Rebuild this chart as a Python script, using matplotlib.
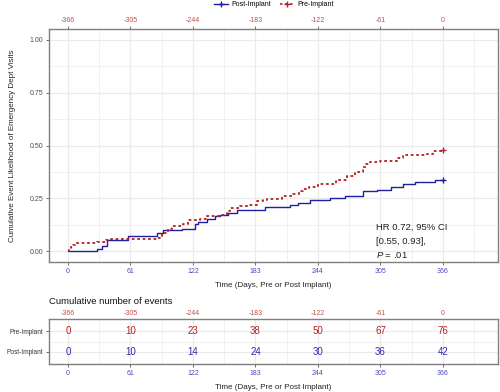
import numpy as np
import matplotlib
matplotlib.use("Agg")
import matplotlib.pyplot as plt
from matplotlib.lines import Line2D
from matplotlib.ticker import FixedLocator

plt.rcParams['font.family'] = ['Liberation Sans', 'DejaVu Sans']
plt.rcParams['mathtext.fontset'] = 'custom'
plt.rcParams['mathtext.it'] = 'Liberation Sans:italic'
plt.rcParams['mathtext.rm'] = 'Liberation Sans'

# data
post_days = [0, 28.6, 33.1, 38.3, 58.6, 87.1, 93, 111, 124, 127, 135.4, 143.5, 148.4, 156.4,
             164.7, 192, 216.7, 224.8, 236, 255.7, 270, 288, 302, 315.7, 327, 339, 358, 366]
post_cum = [0, 0.012, 0.025, 0.056, 0.075, 0.088, 0.102, 0.108, 0.131, 0.138, 0.153, 0.166, 0.174, 0.182,
            0.194, 0.21, 0.219, 0.23, 0.244, 0.253, 0.261, 0.283, 0.291, 0.304, 0.318, 0.33, 0.337, 0.337]

pre_days = [0, 1.3, 3, 5, 7.5, 28.6, 36.8, 41.6, 86.8, 89.8, 92, 97.3, 101.5, 112.5, 117.4, 128.8,
            136, 148.4, 154.9, 158.1, 167.9, 176, 184.2, 190, 194, 208.6, 220, 225.5, 229.8, 235,
            244, 262, 272, 280.6, 287.8, 291, 294.6, 304.5, 320.7, 327, 350, 356, 366]
pre_cum = [0, 0.01, 0.02, 0.03, 0.038, 0.045, 0.053, 0.06, 0.064, 0.075, 0.088, 0.106, 0.119, 0.128, 0.15, 0.154,
           0.166, 0.174, 0.189, 0.205, 0.213, 0.221, 0.236, 0.241, 0.247, 0.264, 0.272, 0.283, 0.294, 0.303,
           0.319, 0.338, 0.357, 0.377, 0.40, 0.412, 0.421, 0.427, 0.44, 0.454, 0.46, 0.476, 0.479]

tick_days = [0, 61, 122, 183, 244, 305, 366]
top_labels = ['-366', '-305', '-244', '-183', '-122', '-61', '0']
y_ticks = [0.0, 0.25, 0.5, 0.75, 1.0]
y_labels = ['0.00', '0.25', '0.50', '0.75', '1.00']

table_groups = ['Post-Implant', 'Pre-Implant']
pre_events = [0, 10, 23, 38, 50, 67, 76]
post_events = [0, 10, 14, 24, 30, 36, 42]

blue = '#1f1fa0'
red = '#b22222'
lab_red = '#c0504d'
lab_blue = '#4a4ac8'
grid_c = '#ebebeb'
border_c = '#7f7f7f'
minor_x = [30.5, 91.5, 152.5, 213.5, 274.5, 335.5, 396.5]
xlim = (-18.5, 419.7)
tick_fs = 5.0

fig = plt.figure(figsize=(5, 3.92), dpi=100)
ax = fig.add_axes([0.098, 0.3316, 0.898, 0.5944])
tab = fig.add_axes([0.098, 0.0714, 0.898, 0.1148])


def style_panel(a):
    for s in a.spines.values():
        s.set_color(border_c)
        s.set_linewidth(1.0)
    a.set_axisbelow(True)
    a.tick_params(which='both', length=2.5, width=0.6, color='#555555', labelsize=tick_fs, pad=1.5)
    a.tick_params(which='minor', length=0)


style_panel(ax)
ax.set_xlim(*xlim)
ax.set_ylim(-0.05, 1.05)
ax.set_xticks(tick_days)
ax.set_xticklabels([str(d) for d in tick_days], color=lab_blue)
ax.xaxis.set_minor_locator(FixedLocator(minor_x))
ax.set_yticks(y_ticks)
ax.set_yticklabels(y_labels, color='#4d4d4d')
ax.yaxis.set_minor_locator(FixedLocator([0.125, 0.375, 0.625, 0.875]))
ax.grid(True, which='major', color=grid_c, linewidth=0.9)
ax.grid(True, which='minor', color=grid_c, linewidth=0.5)

top = ax.secondary_xaxis('top')
top.set_xticks(tick_days)
top.set_xticklabels(top_labels, color=lab_red)
top.tick_params(length=2.5, width=0.6, color='#555555', labelsize=tick_fs, pad=1.0)
top.spines['top'].set_visible(False)

ax.step(post_days, post_cum, where='post', color=blue, lw=1.0)
ax.step(pre_days, pre_cum, where='post', color=red, lw=1.3, linestyle=(0, (1.5, 1.5)))
ax.plot([366], [post_cum[-1]], marker='+', color=blue, ms=5, mew=1.0)
ax.plot([366], [pre_cum[-1]], marker='+', color=red, ms=5, mew=1.0)

ax.set_xlabel('Time (Days, Pre or Post Implant)', fontsize=5.8, color='#222222', labelpad=5)
ax.set_ylabel('Cumulative Event Likelihood of Emergency Dept Visits', fontsize=5.8, color='#222222', labelpad=10)

ax.text(300.6, 0.113, 'HR 0.72, 95% CI', fontsize=6.8, color='#222222', va='center')
ax.text(300.6, 0.047, '[0.55, 0.93],', fontsize=6.8, color='#222222', va='center')
ax.text(300.6, -0.016, '$P$ = .01', fontsize=6.8, color='#222222', va='center')

handles = [Line2D([], [], color=blue, lw=1.0, marker='+', ms=5),
           Line2D([], [], color=red, lw=1.2, linestyle=(0, (1.5, 1.5)), marker='+', ms=5)]
fig.legend(handles, table_groups, loc='center', bbox_to_anchor=(0.548, 0.988), ncol=2,
           frameon=False, fontsize=5.0, handlelength=2.0, handletextpad=0.5, columnspacing=1.2)

# risk table
style_panel(tab)
tab.set_xlim(*xlim)
tab.set_ylim(0.4, 2.6)
tab.set_xticks(tick_days)
tab.set_xticklabels([str(d) for d in tick_days], color=lab_blue)
tab.xaxis.set_minor_locator(FixedLocator(minor_x))
tab.set_yticks([1, 2])
tab.set_yticklabels(table_groups, color='#333333', fontsize=4.7)
tab.yaxis.set_minor_locator(FixedLocator([1.5]))
tab.grid(True, which='major', color=grid_c, linewidth=0.9)
tab.grid(True, which='minor', color=grid_c, linewidth=0.5)
ttop = tab.secondary_xaxis('top')
ttop.set_xticks(tick_days)
ttop.set_xticklabels(top_labels, color=lab_red)
ttop.tick_params(length=0, labelsize=tick_fs, pad=1.5)
ttop.spines['top'].set_visible(False)

for d, n in zip(tick_days, pre_events):
    tab.text(d, 2, str(n), color=red, fontsize=7.0, ha='center', va='center')
for d, n in zip(tick_days, post_events):
    tab.text(d, 1, str(n), color='#2b2bb0', fontsize=7.0, ha='center', va='center')

tab.set_xlabel('Time (Days, Pre or Post Implant)', fontsize=5.8, color='#222222', labelpad=5)
fig.text(0.098, 1 - 301 / 392, 'Cumulative number of events', fontsize=6.8, color='#111111', va='center')

fig.savefig('out.png', dpi=100)
